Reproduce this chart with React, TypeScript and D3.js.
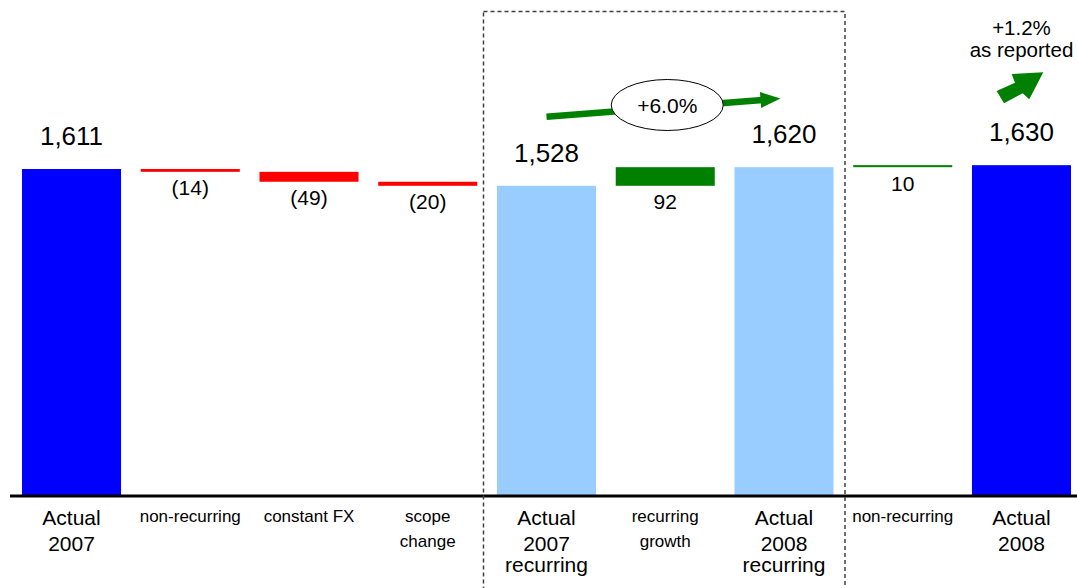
import React from "react";
import * as d3 from "d3";

const categories: string[][] = [
  ["Actual", "2007"],
  ["non-recurring"],
  ["constant FX"],
  ["scope", "change"],
  ["Actual", "2007", "recurring"],
  ["recurring", "growth"],
  ["Actual", "2008", "recurring"],
  ["non-recurring"],
  ["Actual", "2008"],
];
const values: number[] = [1611, -14, -49, -20, 1528, 92, 1620, 10, 1630];
const kinds: string[] = ["total", "delta", "delta", "delta", "subtotal", "delta", "subtotal", "delta", "total"];
const valueLabels: string[] = ["1,611", "(14)", "(49)", "(20)", "1,528", "92", "1,620", "10", "1,630"];
const recurringGrowthLabel = "+6.0%";
const reportedGrowthLabel = ["+1.2%", "as reported"];

const W = 1077;
const H = 588;
const FONT = "'Liberation Sans', Arial, Helvetica, sans-serif";

const COLORS = {
  total: "#0000FF",
  subtotal: "#99CCFF",
  neg: "#FF0000",
  pos: "#008000",
};

export default function App() {
  const x = d3
    .scaleBand<number>()
    .domain(values.map((_, i) => i))
    .range([22, 1071])
    .paddingInner(0.166)
    .paddingOuter(0);
  const y = d3.scaleLinear().domain([0, 1611]).range([495, 169]);
  const bw = x.bandwidth();

  let running = 0;
  const bars = values.map((v, i) => {
    let lo: number, hi: number, color: string;
    if (kinds[i] === "total" || kinds[i] === "subtotal") {
      lo = 0;
      hi = v;
      running = v;
      color = kinds[i] === "total" ? COLORS.total : COLORS.subtotal;
    } else {
      const start = running;
      const end = running + v;
      lo = Math.min(start, end);
      hi = Math.max(start, end);
      running = end;
      color = v < 0 ? COLORS.neg : COLORS.pos;
    }
    return { i, lo, hi, color, kind: kinds[i] };
  });

  const cx = (i: number) => (x(i) as number) + bw / 2;

  // thin growth arrow
  const a0 = { x: cx(4), y: 116.7 };
  const a1 = { x: cx(6) - 3.5, y: 98.5 };
  const L = Math.hypot(a1.x - a0.x, a1.y - a0.y);
  const ang = (Math.atan2(a1.y - a0.y, a1.x - a0.x) * 180) / Math.PI;
  const ellCx = cx(5) + 2;

  // block arrow relative to last bar center
  const bc = cx(8);
  const blockPts: [number, number][] = [
    [-24.8, 91],
    [-17.5, 103.3],
    [1.2, 93.3],
    [7.8, 99.3],
    [21.8, 72.3],
    [-9.8, 74],
    [-6.5, 82.7],
  ];

  return (
    <svg
      width={W}
      height={H}
      style={{ position: "absolute", left: 0, top: 0, display: "block", background: "#fff" }}
      fontFamily={FONT}
    >
      <rect x={0} y={0} width={W} height={H} fill="#fff" />
      {bars.map((b) => (
        <rect
          key={b.i}
          x={x(b.i)}
          y={y(b.hi)}
          width={bw}
          height={Math.max(1, y(b.lo) - y(b.hi))}
          fill={b.color}
        />
      ))}
      {/* baseline */}
      <line x1={10} x2={W} y1={496} y2={496} stroke="#000" strokeWidth={3} />
      {/* dashed box */}
      <rect
        x={483.5}
        y={11.5}
        width={361.5}
        height={600}
        fill="none"
        stroke="#404040"
        strokeWidth={1.5}
        strokeDasharray="4,3"
      />
      {/* value labels */}
      {bars.map((b) =>
        b.kind === "delta" ? (
          <text key={"v" + b.i} x={cx(b.i)} y={y(b.lo) + 23.5} textAnchor="middle" fontSize={21} fill="#000">
            {valueLabels[b.i]}
          </text>
        ) : (
          <text key={"v" + b.i} x={cx(b.i)} y={y(b.hi) - 24} textAnchor="middle" fontSize={26} fill="#000">
            {valueLabels[b.i]}
          </text>
        )
      )}
      {/* category labels */}
      {categories.map((lines, i) => {
        const big = kinds[i] !== "delta";
        const ys = big ? [524.5, 550.5, 571.5] : [521.5, 547];
        return (
          <text key={"c" + i} textAnchor="middle" fontSize={big ? 21 : 17} fill="#000">
            {lines.map((ln, j) => (
              <tspan key={j} x={cx(i)} y={ys[j]}>
                {ln}
              </tspan>
            ))}
          </text>
        );
      })}
      {/* thin arrow with ellipse */}
      <g transform={`translate(${a0.x},${a0.y}) rotate(${ang})`}>
        <line x1={0} y1={0} x2={L - 18} y2={0} stroke="#008000" strokeWidth={6.5} />
        <polygon points={`${L - 20},-8 ${L},0 ${L - 20},8`} fill="#008000" />
      </g>
      <ellipse cx={ellCx} cy={105} rx={56} ry={25.5} fill="#fff" stroke="#000" strokeWidth={1} />
      <text x={ellCx} y={112.5} textAnchor="middle" fontSize={21} fill="#000">
        {recurringGrowthLabel}
      </text>
      {/* block arrow */}
      <polygon points={blockPts.map(([dx, dy]) => `${bc + dx},${dy}`).join(" ")} fill="#008000" />
      <text textAnchor="middle" fontSize={20.5} fill="#000">
        <tspan x={bc} y={35}>
          {reportedGrowthLabel[0]}
        </tspan>
        <tspan x={bc} y={56.7}>
          {reportedGrowthLabel[1]}
        </tspan>
      </text>
    </svg>
  );
}
